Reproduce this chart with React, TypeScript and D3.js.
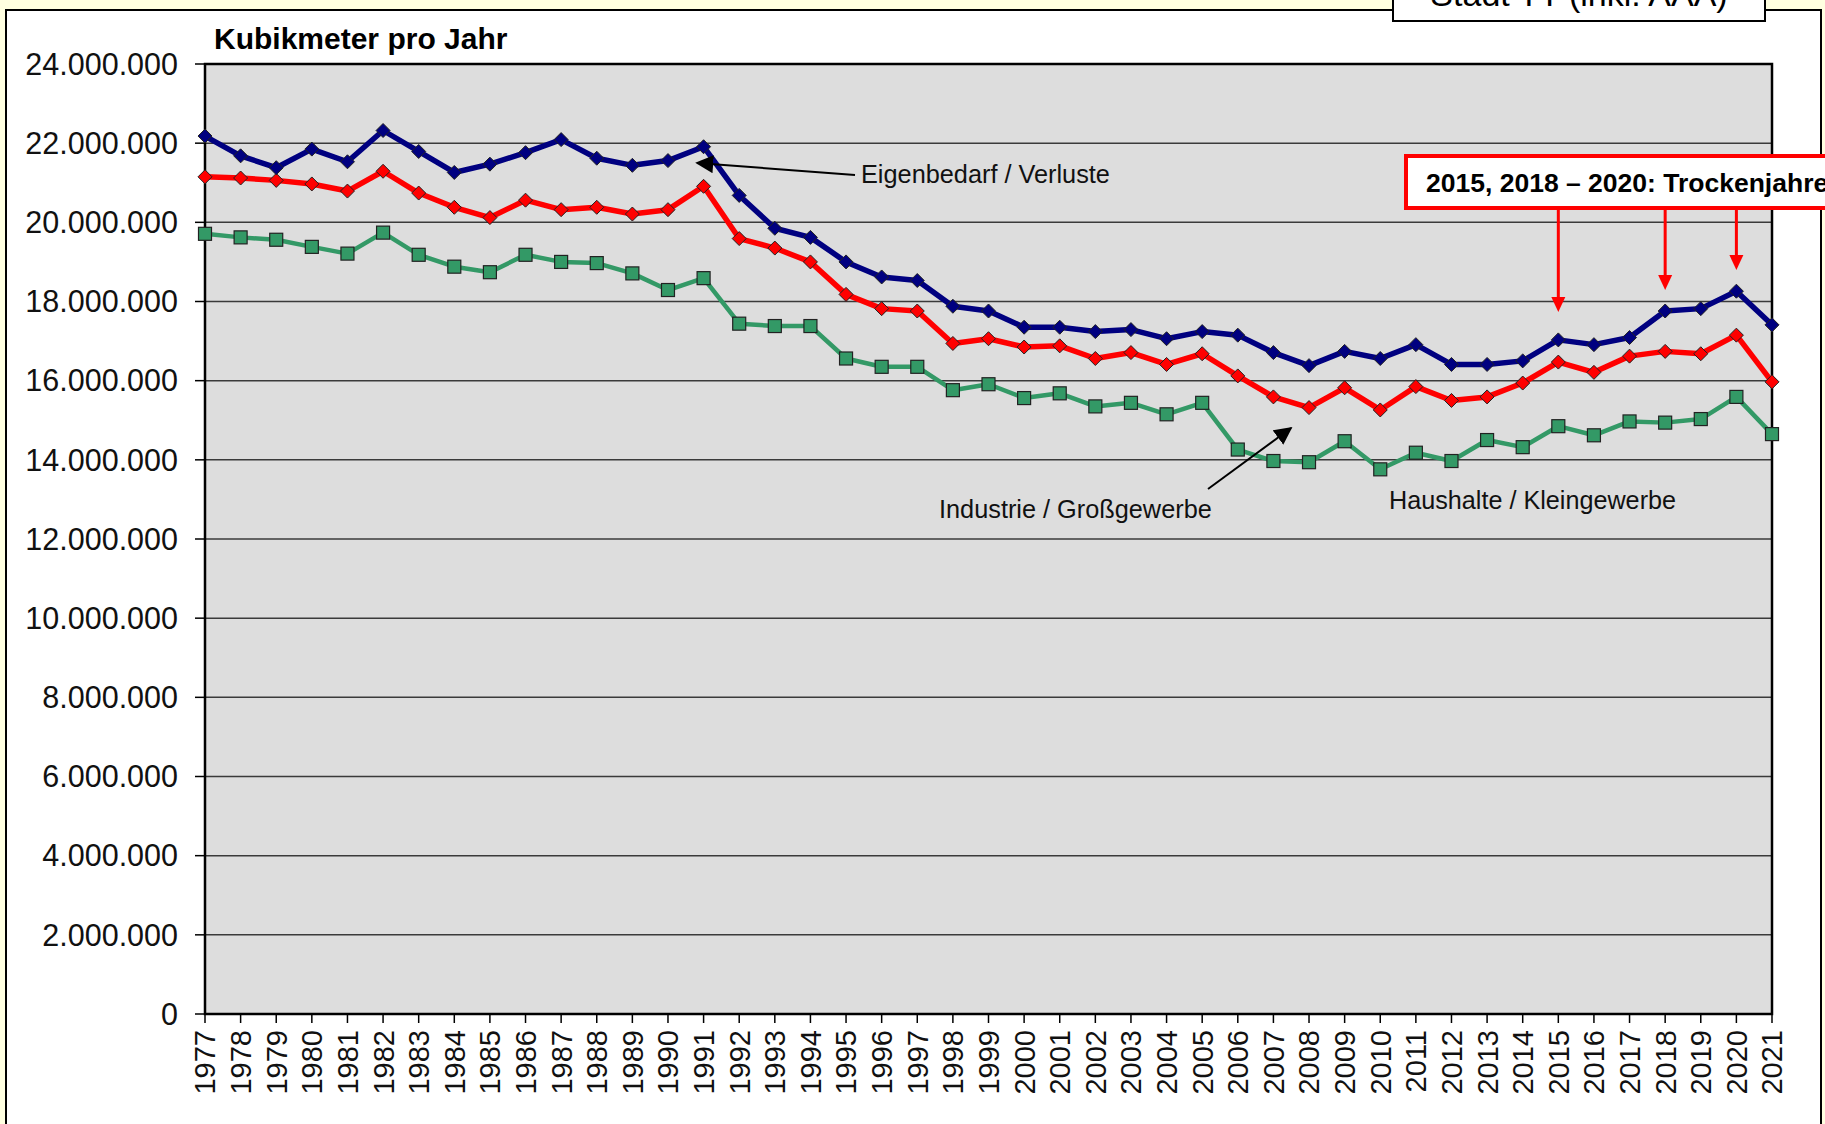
import React from "react";
import * as d3 from "d3";

const years = [
  1977, 1978, 1979, 1980, 1981, 1982, 1983, 1984, 1985, 1986, 1987, 1988, 1989, 1990, 1991,
  1992, 1993, 1994, 1995, 1996, 1997, 1998, 1999, 2000, 2001, 2002, 2003, 2004, 2005, 2006,
  2007, 2008, 2009, 2010, 2011, 2012, 2013, 2014, 2015, 2016, 2017, 2018, 2019, 2020, 2021,
];

// Gesamt inkl. Eigenbedarf / Verluste (Mio. m³)
const totalSeries = [
  22.18, 21.68, 21.38, 21.85, 21.53, 22.32, 21.79, 21.26, 21.47, 21.76, 22.09, 21.62, 21.44, 21.56, 21.91,
  20.68, 19.85, 19.62, 19.0, 18.62, 18.53, 17.88, 17.76, 17.35, 17.35, 17.24, 17.29, 17.06, 17.24, 17.15,
  16.71, 16.38, 16.74, 16.56, 16.91, 16.41, 16.41, 16.5, 17.03, 16.91, 17.09, 17.76, 17.82, 18.26, 17.41,
];

// Haushalte + Industrie / Großgewerbe
const industrySeries = [
  21.15, 21.12, 21.06, 20.97, 20.79, 21.29, 20.74, 20.38, 20.12, 20.56, 20.32, 20.38, 20.21, 20.32, 20.91,
  19.59, 19.35, 19.0, 18.18, 17.82, 17.76, 16.94, 17.06, 16.85, 16.88, 16.56, 16.71, 16.41, 16.68, 16.12,
  15.59, 15.32, 15.82, 15.26, 15.85, 15.5, 15.59, 15.94, 16.47, 16.21, 16.62, 16.74, 16.68, 17.15, 15.97,
];

// Haushalte / Kleingewerbe
const householdSeries = [
  19.71, 19.62, 19.56, 19.38, 19.21, 19.74, 19.18, 18.88, 18.74, 19.18, 19.0, 18.97, 18.71, 18.29, 18.59,
  17.44, 17.38, 17.38, 16.56, 16.35, 16.35, 15.76, 15.91, 15.56, 15.68, 15.35, 15.44, 15.15, 15.44, 14.26,
  13.97, 13.94, 14.47, 13.76, 14.18, 13.97, 14.5, 14.32, 14.85, 14.62, 14.97, 14.94, 15.03, 15.59, 14.65,
];

const yTicks = [0, 2, 4, 6, 8, 10, 12, 14, 16, 18, 20, 22, 24];
const dryYears = [2015, 2018, 2020];
const dryArrowEnds = [312, 290, 270];

const W = 1825;
const H = 1124;
const left = 205;
const right = 1772;
const top = 64;
const bottom = 1014;

const fmt = (v: number) => (v === 0 ? "0" : `${v}.000.000`);
const FONT = "'Liberation Sans', Arial, Helvetica, sans-serif";

export default function App() {
  const x = d3.scalePoint<number>().domain(years).range([left, right]).padding(0);
  const y = d3.scaleLinear().domain([0, 24]).range([bottom, top]);
  const line = d3
    .line<number>()
    .x((_, i) => x(years[i]) as number)
    .y((d) => y(d));

  const diamond = (cx: number, cy: number, r: number) =>
    `M${cx},${cy - r}L${cx + r},${cy}L${cx},${cy + r}L${cx - r},${cy}Z`;

  const series = [
    { data: householdSeries, color: "#339966", marker: "square", fill: "#339966", w: 4.5 },
    { data: industrySeries, color: "#FF0000", marker: "diamond", fill: "#FF0000", w: 5.5 },
    { data: totalSeries, color: "#000080", marker: "diamond", fill: "#000080", w: 5.5 },
  ];

  return (
    <svg
      width={W}
      height={H}
      style={{ position: "absolute", left: 0, top: 0, display: "block" }}
      fontFamily={FONT}
    >
      <defs>
        <marker id="ahBig" viewBox="0 0 10 10" refX="9" refY="5" markerWidth="18" markerHeight="18" markerUnits="userSpaceOnUse" orient="auto">
          <path d="M0,0 L10,5 L0,10 Z" fill="#000" />
        </marker>
      </defs>
      <rect x={0} y={0} width={W} height={H} fill="#FFFFE0" />
      <rect x={6} y={10} width={1815} height={1140} fill="#FFFFFF" stroke="#000" strokeWidth={2} />

      {/* top-right cut-off box */}
      <rect x={1393} y={-10} width={372} height={31} fill="#FFFFFF" stroke="#000" strokeWidth={2} />
      <text x={1579} y={6} textAnchor="middle" fontSize={34} fill="#000">
        Stadt TT (inkl. AAA)
      </text>

      {/* title */}
      <text x={214} y={49} fontSize={30} fontWeight="bold" fill="#000">
        Kubikmeter pro Jahr
      </text>

      {/* plot background */}
      <rect x={left} y={top} width={right - left} height={bottom - top} fill="#DDDDDD" />

      {/* gridlines */}
      {yTicks.map((t) => (
        <line key={`g${t}`} x1={left} x2={right} y1={y(t)} y2={y(t)} stroke="#3a3a3a" strokeWidth={1.5} />
      ))}

      {/* y ticks and labels */}
      {yTicks.map((t) => (
        <g key={`yt${t}`}>
          <line x1={195} x2={left} y1={y(t)} y2={y(t)} stroke="#000" strokeWidth={1.5} />
          <text x={178} y={y(t)} dy="0.35em" textAnchor="end" fontSize={30.5} fill="#111">
            {fmt(t)}
          </text>
        </g>
      ))}

      {/* x ticks and labels */}
      {years.map((yr) => (
        <g key={`xt${yr}`}>
          <line x1={x(yr)} x2={x(yr)} y1={bottom} y2={bottom + 9} stroke="#000" strokeWidth={1.5} />
          <text
            transform={`translate(${x(yr)},${bottom + 16}) rotate(-90)`}
            textAnchor="end"
            dy="0.36em"
            fontSize={29}
            fill="#111"
          >
            {yr}
          </text>
        </g>
      ))}

      {/* plot border */}
      <rect x={left} y={top} width={right - left} height={bottom - top} fill="none" stroke="#000" strokeWidth={2.5} />

      {/* series */}
      {series.map((s, si) => (
        <g key={`s${si}`}>
          <path d={line(s.data) || ""} fill="none" stroke={s.color} strokeWidth={s.w} strokeLinejoin="round" />
          {s.data.map((v, i) => {
            const cx = x(years[i]) as number;
            const cy = y(v);
            return s.marker === "square" ? (
              <rect key={i} x={cx - 6.5} y={cy - 6.5} width={13} height={13} fill={s.fill} stroke="#222" strokeWidth={1.2} />
            ) : (
              <path key={i} d={diamond(cx, cy, 7)} fill={s.fill} stroke="#222" strokeWidth={1} />
            );
          })}
        </g>
      ))}

      {/* annotations */}
      <line x1={855} y1={175} x2={697} y2={163} stroke="#000" strokeWidth={2} markerEnd="url(#ahBig)" />
      <text x={861} y={183} fontSize={25.3} fill="#111">
        Eigenbedarf / Verluste
      </text>

      <line x1={1208} y1={489} x2={1291} y2={428} stroke="#000" strokeWidth={2} markerEnd="url(#ahBig)" />
      <text x={939} y={518} fontSize={25.3} fill="#111">
        Industrie / Großgewerbe
      </text>

      <text x={1389} y={509} fontSize={25.2} fill="#111">
        Haushalte / Kleingewerbe
      </text>

      {/* dry years box */}
      <rect x={1406} y={156} width={440} height={52} fill="#FFFFFF" stroke="#FF0000" strokeWidth={4} />
      <text x={1426} y={192} fontSize={26.5} fontWeight="bold" fill="#000">
        2015, 2018 – 2020: Trockenjahre
      </text>
      {dryYears.map((yr, i) => {
        const cx = x(yr) as number;
        const end = dryArrowEnds[i];
        return (
          <g key={`d${yr}`}>
            <line x1={cx} x2={cx} y1={208} y2={end - 12} stroke="#FF0000" strokeWidth={3} />
            <path d={`M${cx - 7},${end - 15}L${cx + 7},${end - 15}L${cx},${end}Z`} fill="#FF0000" />
          </g>
        );
      })}
    </svg>
  );
}
